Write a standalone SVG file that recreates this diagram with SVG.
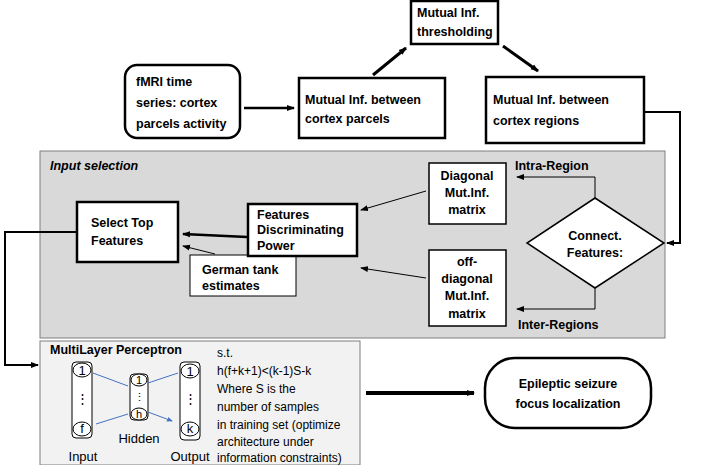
<svg xmlns="http://www.w3.org/2000/svg" width="708" height="465" viewBox="0 0 708 465">
<defs>
<marker id="a" markerWidth="8" markerHeight="8" refX="7" refY="4" orient="auto" markerUnits="userSpaceOnUse"><path d="M0,1 L8,4 L0,7 z" fill="#000"/></marker>
<marker id="b" markerWidth="6" markerHeight="6" refX="5" refY="3" orient="auto" markerUnits="userSpaceOnUse"><path d="M0,0.5 L6,3 L0,5.5 z" fill="#4472c4"/></marker>
</defs>
<style>
text{font-family:"Liberation Sans","Open Sans",sans-serif;fill:#000}
.b{font-weight:bold;font-size:12.5px}
.box{fill:#fff;stroke:#000;stroke-width:2.5}
.tb{fill:#fff;stroke:#000;stroke-width:1.5}
.c{stroke:#000;fill:none}
.n{font-size:13px}
</style>
<rect x="40" y="151" width="625" height="187" fill="#d9d9d9" stroke="#7f7f7f"/>
<text x="50" y="170" class="b" font-style="italic" font-size="11">Input selection</text>
<rect x="40" y="341" width="320" height="124" fill="#f2f2f2" stroke="#7f7f7f"/>
<text x="50" y="354" class="b" font-size="11">MultiLayer Perceptron</text>
<g id="connectors">
<path class="c" stroke-width="2.5" d="M244,108 L294,108" marker-end="url(#a)"/>
<path class="c" stroke-width="3" d="M373,75 L406,48" marker-end="url(#a)"/>
<path class="c" stroke-width="3" d="M503,46 L538,71" marker-end="url(#a)"/>
<path class="c" stroke-width="2" d="M645,112 L680,112 L680,243 L667,243" marker-end="url(#a)"/>
<path class="c" d="M595,198 L595,177 L517,177" marker-end="url(#a)" stroke-width="1"/>
<path class="c" d="M595,288 L595,309 L517,309" marker-end="url(#a)" stroke-width="1"/>
<path class="c" d="M426,191 L361,210" marker-end="url(#a)"/>
<path class="c" d="M426,278 L361,268" marker-end="url(#a)"/>
<path class="c" stroke-width="2.5" d="M247,237 L183,234" marker-end="url(#a)"/>
<path class="c" d="M215,254 L183,246" marker-end="url(#a)"/>
<path class="c" stroke-width="2" d="M77,232 L5,232 L5,365 L38,365" marker-end="url(#a)"/>
<path class="c" stroke-width="4" d="M366,393 L474,393" marker-end="url(#a)"/>
</g>
<g id="fmri"><rect class="box" x="125" y="65" width="115" height="73" rx="12"/>
<text class="b" x="136" y="86">fMRI time</text><text class="b" x="136" y="107">series: cortex</text><text class="b" x="136" y="128">parcels activity</text></g>
<g id="parcels"><rect class="box" x="299" y="78" width="146" height="60"/>
<text class="b" x="305" y="104">Mutual Inf.  between</text><text class="b" x="305" y="123">cortex parcels</text></g>
<g id="thresh"><rect class="box" x="411" y="1" width="87" height="43"/>
<text class="b" x="417" y="17">Mutual Inf.</text><text class="b" x="417" y="36">thresholding</text></g>
<g id="regions"><rect class="box" x="486" y="77" width="158" height="66"/>
<text class="b" x="493" y="104">Mutual Inf. between</text><text class="b" x="493" y="125">cortex regions</text></g>
<g id="diag"><rect class="tb" x="429" y="163" width="77" height="61"/>
<text class="b" x="467" y="180" text-anchor="middle">Diagonal</text><text class="b" x="467" y="197" text-anchor="middle">Mut.Inf.</text><text class="b" x="467" y="214" text-anchor="middle">matrix</text></g>
<g id="offdiag"><rect class="tb" x="429" y="250" width="77" height="76"/>
<text class="b" x="467" y="266" text-anchor="middle">off-</text><text class="b" x="467" y="283" text-anchor="middle">diagonal</text><text class="b" x="467" y="300" text-anchor="middle">Mut.Inf.</text><text class="b" x="467" y="318" text-anchor="middle">matrix</text></g>
<g id="connect"><path class="tb" d="M595,198 L664,243 L595,288 L527,243 Z"/>
<text class="b" x="595" y="240" text-anchor="middle" font-size="11">Connect.</text><text class="b" x="595" y="257" text-anchor="middle" font-size="11">Features:</text>
<text class="b" x="515" y="170">Intra-Region</text><text class="b" x="518" y="329">Inter-Regions</text></g>
<g id="tank"><rect fill="#fff" stroke="#000" stroke-width="1" x="190" y="255" width="106" height="41"/>
<text class="b" x="202" y="274" font-size="10">German tank</text><text class="b" x="202" y="290" font-size="10">estimates</text></g>
<g id="fdp"><rect class="box" x="248" y="204" width="109" height="52"/>
<text class="b" x="257" y="219">Features</text><text class="b" x="257" y="234">Discriminating</text><text class="b" x="257" y="250">Power</text></g>
<g id="select"><rect class="box" x="77" y="202" width="101" height="60"/>
<text class="b" x="91" y="227">Select Top</text><text class="b" x="91" y="245">Features</text></g>
<g id="mlp">
<rect x="72" y="362" width="20" height="76" rx="4" fill="#fff" stroke="#000"/>
<ellipse cx="82" cy="370" rx="9" ry="7" fill="#fff" stroke="#000"/><text x="82" y="375" text-anchor="middle" class="n">1</text>
<text x="82" y="403" text-anchor="middle" class="n">⋮</text>
<ellipse cx="82" cy="429" rx="9" ry="7" fill="#fff" stroke="#000"/><text x="82" y="433" text-anchor="middle" class="n">f</text>
<rect x="130" y="374" width="18" height="46" rx="4" fill="#fff" stroke="#000"/>
<ellipse cx="139" cy="380" rx="8" ry="6" fill="#fff" stroke="#000"/><text x="139" y="384" text-anchor="middle" font-size="11">1</text>
<text x="139" y="401" text-anchor="middle" font-size="11">⋮</text>
<ellipse cx="139" cy="414" rx="8" ry="6" fill="#fff" stroke="#000"/><text x="139" y="418" text-anchor="middle" font-size="11">h</text>
<rect x="180" y="362" width="20" height="78" rx="4" fill="#fff" stroke="#000"/>
<ellipse cx="190" cy="371" rx="9" ry="7" fill="#fff" stroke="#000"/><text x="190" y="376" text-anchor="middle" class="n">1</text>
<text x="190" y="403" text-anchor="middle" class="n">⋮</text>
<ellipse cx="190" cy="429" rx="9" ry="7" fill="#fff" stroke="#000"/><text x="190" y="433" text-anchor="middle" class="n">k</text>
<path d="M93,373 L128,386 M96,424 L128,414 M148,383 L178,373 M148,412 L172,421" stroke="#4472c4" fill="none" marker-end="url(#b)"/>
<text x="83" y="461" text-anchor="middle" class="n">Input</text>
<text x="139" y="443" text-anchor="middle" class="n">Hidden</text>
<text x="190" y="461" text-anchor="middle" class="n">Output</text>
<g font-size="12"><text x="217" y="357">s.t.</text><text x="217" y="375">h(f+k+1)&lt;(k-1)S-k</text><text x="217" y="393">Where S is the</text><text x="217" y="411">number of samples</text><text x="217" y="429">in training set (optimize</text><text x="217" y="446">architecture under</text><text x="217" y="462">information constraints)</text></g>
</g>
<g id="epileptic"><rect class="box" x="485" y="358" width="166" height="70" rx="30"/>
<text class="b" x="568" y="388" text-anchor="middle" font-size="13">Epileptic seizure</text><text class="b" x="568" y="408" text-anchor="middle" font-size="13">focus localization</text></g>
</svg>
